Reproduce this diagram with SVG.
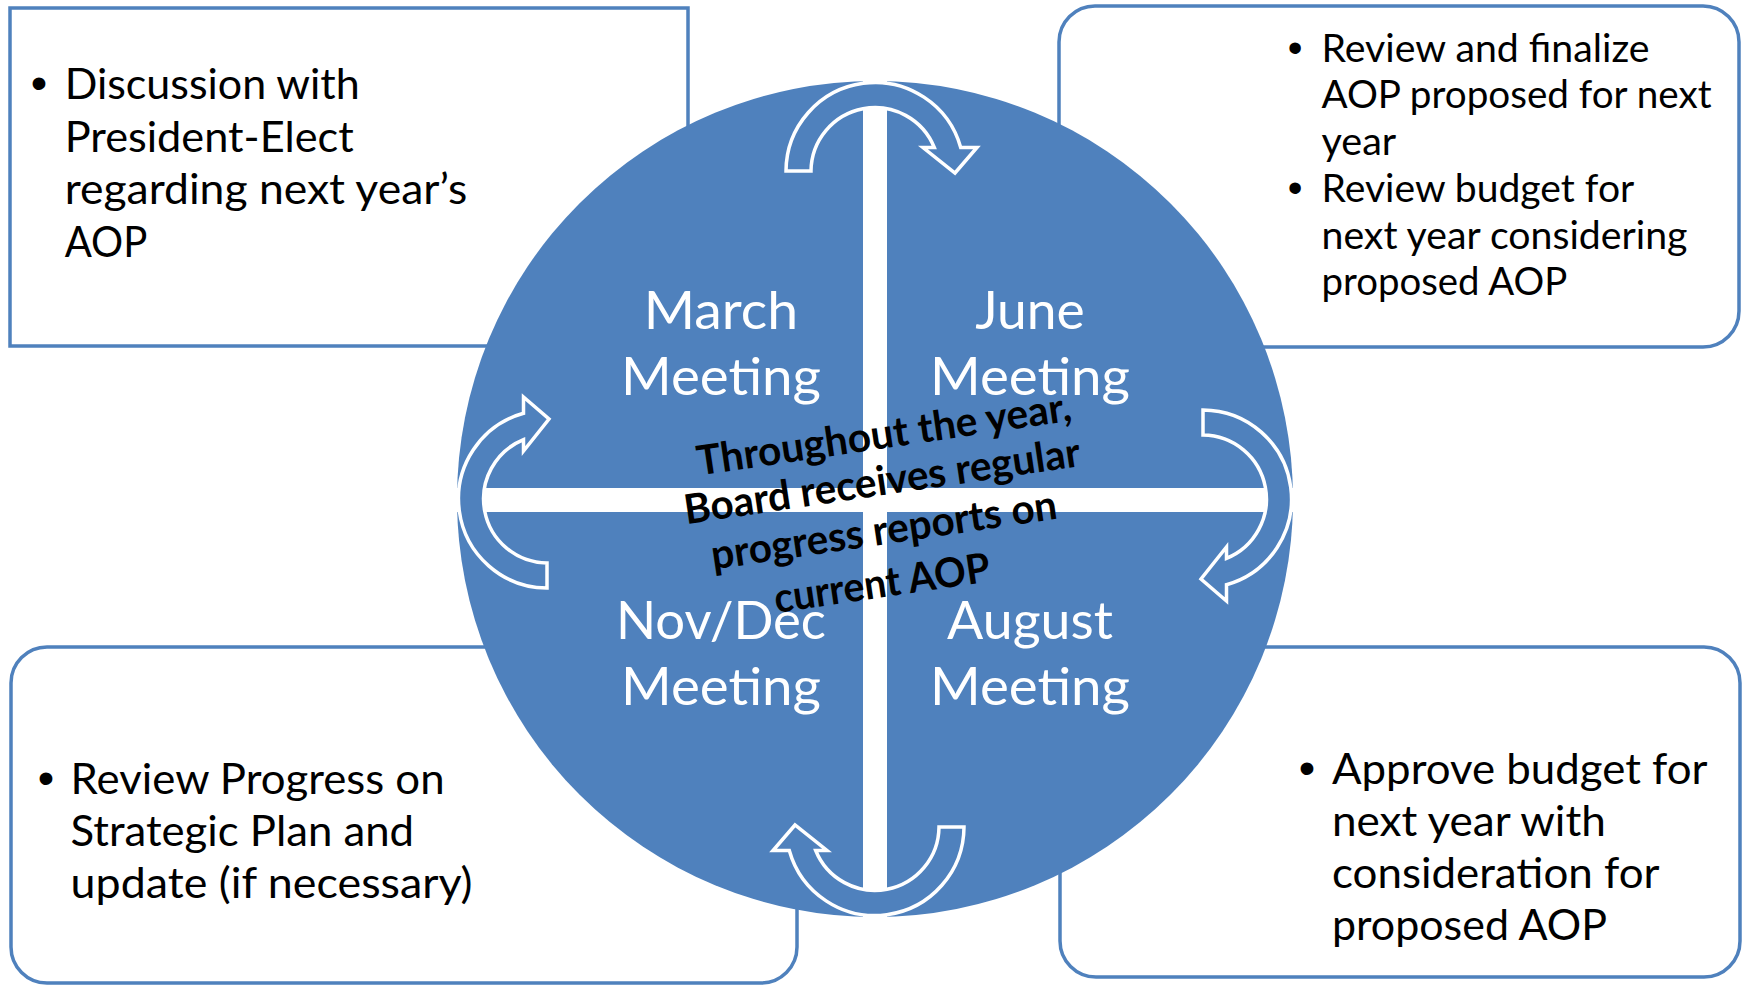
<svg xmlns="http://www.w3.org/2000/svg" width="1749" height="986" viewBox="0 0 1749 986">
<style>
.box{fill:#FFFFFF;stroke:#4F81BD;stroke-width:3.5}
.bt{font-family:Lato,"Liberation Sans",sans-serif;font-size:42.5px;fill:#000000}
.bt2{font-family:Lato,"Liberation Sans",sans-serif;font-size:38px;fill:#000000}
.bul{font-family:"Liberation Sans",Arial,sans-serif;font-size:47px;fill:#000000;text-anchor:middle}
.bul2{font-family:"Liberation Sans",Arial,sans-serif;font-size:42px;fill:#000000;text-anchor:middle}
.mt{font-family:Lato,"Liberation Sans",sans-serif;font-size:52.7px;fill:#FFFFFF;text-anchor:middle}
.ct{font-family:Lato,"Liberation Sans",sans-serif;font-size:41px;font-weight:bold;fill:#000000;text-anchor:middle}
.arr{fill:#4F81BD;stroke:#FFFFFF;stroke-width:3.5;stroke-linejoin:miter}
</style>
<defs>
<path id="arrowTop" d="M786,171 A89,89 0 0 1 960.7,147.5 L977,147.5 L955,173 L923,147.5 L934.3,147.5 A64,64 0 0 0 811,171 Z"/>
</defs>

<g id="box-march">
<rect class="box" x="10" y="8" width="678" height="338"/>
<text class="bul" x="39" y="99.3">•</text>
<text class="bt" x="64.7" y="99.3" textLength="295" lengthAdjust="spacingAndGlyphs">Discussion with</text>
<text class="bt" x="64.7" y="151.8" textLength="289" lengthAdjust="spacingAndGlyphs">President-Elect</text>
<text class="bt" x="64.7" y="204.3" textLength="402.5" lengthAdjust="spacingAndGlyphs">regarding next year’s</text>
<text class="bt" x="64.7" y="256.8" textLength="82.6" lengthAdjust="spacingAndGlyphs">AOP</text>
</g>

<g id="box-june">
<rect class="box" x="1059" y="6" width="680" height="341" rx="36" ry="36"/>
<text class="bul2" x="1295" y="61.7">•</text>
<text class="bt2" x="1321.5" y="61.7" textLength="328" lengthAdjust="spacingAndGlyphs">Review and finalize</text>
<text class="bt2" x="1321.5" y="108.4" textLength="390" lengthAdjust="spacingAndGlyphs">AOP proposed for next</text>
<text class="bt2" x="1321.5" y="155.1" textLength="74.7" lengthAdjust="spacingAndGlyphs">year</text>
<text class="bul2" x="1295" y="201.8">•</text>
<text class="bt2" x="1321.5" y="201.8" textLength="312.8" lengthAdjust="spacingAndGlyphs">Review budget for</text>
<text class="bt2" x="1321.5" y="248.5" textLength="366" lengthAdjust="spacingAndGlyphs">next year considering</text>
<text class="bt2" x="1321.5" y="295.2" textLength="245.7" lengthAdjust="spacingAndGlyphs">proposed AOP</text>
</g>

<g id="box-novdec">
<rect class="box" x="11" y="647" width="786" height="336" rx="36" ry="36"/>
<text class="bul" x="46" y="794">•</text>
<text class="bt" x="70.6" y="794" textLength="374" lengthAdjust="spacingAndGlyphs">Review Progress on</text>
<text class="bt" x="70.6" y="846" textLength="343.5" lengthAdjust="spacingAndGlyphs">Strategic Plan and</text>
<text class="bt" x="70.6" y="898" textLength="402" lengthAdjust="spacingAndGlyphs">update (if necessary)</text>
</g>

<g id="box-august">
<rect class="box" x="1060" y="647" width="680" height="330" rx="36" ry="36"/>
<text class="bul" x="1307" y="784">•</text>
<text class="bt" x="1332" y="784" textLength="375.5" lengthAdjust="spacingAndGlyphs">Approve budget for</text>
<text class="bt" x="1332" y="836" textLength="273.8" lengthAdjust="spacingAndGlyphs">next year with</text>
<text class="bt" x="1332" y="888" textLength="327.5" lengthAdjust="spacingAndGlyphs">consideration for</text>
<text class="bt" x="1332" y="940" textLength="275" lengthAdjust="spacingAndGlyphs">proposed AOP</text>
</g>

<g id="cycle">
<circle cx="875" cy="499" r="418" fill="#4F81BD"/>
<rect x="863" y="81" width="24" height="836" fill="#FFFFFF"/>
<rect x="457" y="488" width="836" height="24" fill="#FFFFFF"/>
</g>

<g id="connectors">
<use href="#arrowTop" class="arr"/>
<use href="#arrowTop" class="arr" transform="rotate(90 875 499)"/>
<use href="#arrowTop" class="arr" transform="rotate(180 875 499)"/>
<use href="#arrowTop" class="arr" transform="rotate(270 875 499)"/>
</g>

<g id="node-march">
<text class="mt" x="721" y="328.5" textLength="154.4" lengthAdjust="spacingAndGlyphs">March</text>
<text class="mt" x="721" y="395" textLength="200" lengthAdjust="spacingAndGlyphs">Meeting</text>
</g>
<g id="node-june">
<text class="mt" x="1030" y="328.5" textLength="109.5" lengthAdjust="spacingAndGlyphs">June</text>
<text class="mt" x="1030" y="395" textLength="200" lengthAdjust="spacingAndGlyphs">Meeting</text>
</g>
<g id="node-novdec">
<text class="mt" x="721" y="638.5" textLength="210" lengthAdjust="spacingAndGlyphs">Nov/Dec</text>
<text class="mt" x="721" y="705" textLength="200" lengthAdjust="spacingAndGlyphs">Meeting</text>
</g>
<g id="node-august">
<text class="mt" x="1030" y="638.5" textLength="165.8" lengthAdjust="spacingAndGlyphs">August</text>
<text class="mt" x="1030" y="705" textLength="200" lengthAdjust="spacingAndGlyphs">Meeting</text>
</g>

<g id="center-note">
<text class="ct" x="886" y="448" transform="rotate(-8.4 886 448)" textLength="378" lengthAdjust="spacingAndGlyphs">Throughout the year,</text>
<text class="ct" x="884" y="495" transform="rotate(-8.4 884 495)" textLength="400" lengthAdjust="spacingAndGlyphs">Board receives regular</text>
<text class="ct" x="886" y="544" transform="rotate(-8.4 886 544)" textLength="349" lengthAdjust="spacingAndGlyphs">progress reports on</text>
<text class="ct" x="884" y="597" transform="rotate(-8.4 884 597)" textLength="218" lengthAdjust="spacingAndGlyphs">current AOP</text>
</g>
</svg>
